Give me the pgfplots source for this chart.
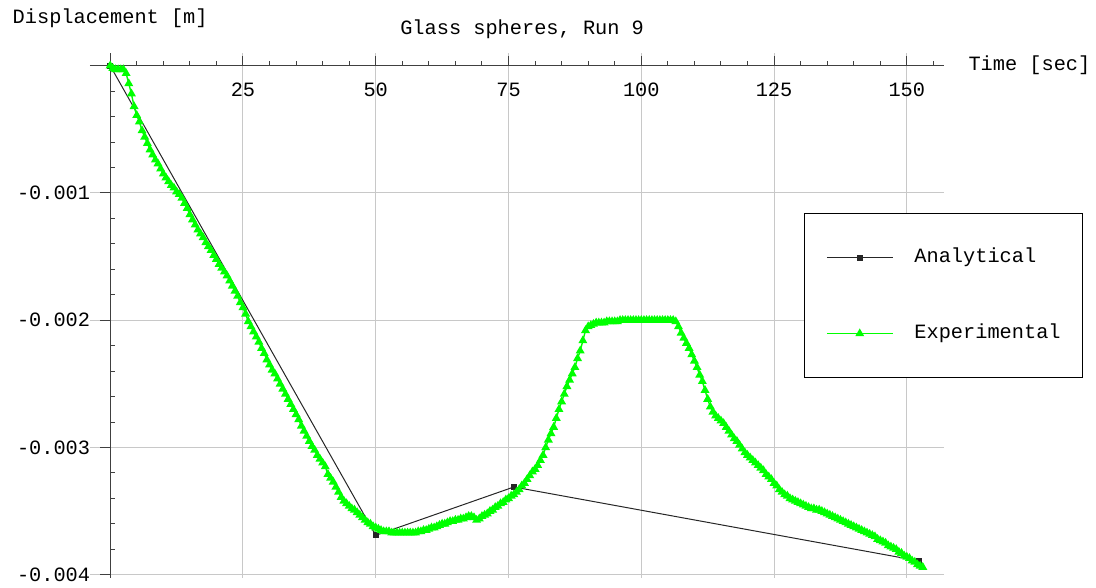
\documentclass[border=0pt]{standalone}
\usepackage{pgfplots}
\usepackage{pgfplotstable}
\pgfplotsset{compat=1.18}
\usepackage{fontspec}
\setmainfont{Liberation Mono}

\definecolor{expgreen}{RGB}{0,255,0}
\definecolor{gridgray}{RGB}{200,200,200}

% displacement in units of 1e-3 m
\pgfplotstableread[row sep=\\]{
t d\\
0 0\\ 50 -3.69\\ 76 -3.31\\ 152.2 -3.89\\
}\anadata

\pgfplotstableread[row sep=\\]{
t d\\
0 0\\ 0.5 -0.02\\ 1 -0.03\\ 1.5 -0.03\\ 2 -0.03\\ 2.5 -0.03\\ 3 -0.06\\ 3.5 -0.14\\ 4 -0.22\\ 4.5 -0.32\\
5 -0.39\\ 5.5 -0.44\\ 6 -0.51\\ 6.5 -0.56\\ 7 -0.61\\ 7.5 -0.66\\ 8 -0.70\\ 8.5 -0.74\\ 9 -0.77\\ 9.5 -0.81\\
10 -0.85\\ 10.5 -0.88\\ 11 -0.91\\ 11.5 -0.94\\ 12 -0.96\\ 12.5 -0.99\\ 13 -1.01\\ 13.5 -1.04\\ 14 -1.08\\ 14.5 -1.12\\
15 -1.17\\ 15.5 -1.21\\ 16 -1.25\\ 16.5 -1.29\\ 17 -1.32\\ 17.5 -1.35\\ 18 -1.39\\ 18.5 -1.42\\ 19 -1.45\\ 19.5 -1.49\\
20 -1.52\\ 20.5 -1.56\\ 21 -1.59\\ 21.5 -1.62\\ 22 -1.65\\ 22.5 -1.69\\ 23 -1.73\\ 23.5 -1.77\\ 24 -1.81\\ 24.5 -1.86\\
25 -1.90\\ 25.5 -1.95\\ 26 -2.01\\ 26.5 -2.05\\ 27 -2.09\\ 27.5 -2.13\\ 28 -2.17\\ 28.5 -2.22\\ 29 -2.26\\ 29.5 -2.31\\
30 -2.35\\ 30.5 -2.39\\ 31 -2.42\\ 31.5 -2.46\\ 32 -2.50\\ 32.5 -2.54\\ 33 -2.58\\ 33.5 -2.62\\ 34 -2.66\\ 34.5 -2.70\\
35 -2.74\\ 35.5 -2.78\\ 36 -2.83\\ 36.5 -2.87\\ 37 -2.91\\ 37.5 -2.95\\ 38 -2.99\\ 38.5 -3.02\\ 39 -3.06\\ 39.5 -3.09\\
40 -3.12\\ 40.5 -3.15\\ 41 -3.21\\ 41.5 -3.24\\ 42 -3.27\\ 42.5 -3.31\\ 43 -3.35\\ 43.5 -3.39\\ 44 -3.42\\ 44.5 -3.44\\
45 -3.46\\ 45.5 -3.48\\ 46 -3.49\\ 46.5 -3.51\\ 47 -3.53\\ 47.5 -3.55\\ 48 -3.57\\ 48.5 -3.59\\ 49 -3.60\\ 49.5 -3.62\\
50 -3.63\\ 50.5 -3.64\\ 51 -3.65\\ 51.5 -3.66\\ 52 -3.66\\ 52.5 -3.66\\ 53 -3.67\\ 53.5 -3.67\\ 54 -3.67\\ 54.5 -3.67\\
55 -3.67\\ 55.5 -3.67\\ 56 -3.67\\ 56.5 -3.67\\ 57 -3.67\\ 57.5 -3.67\\ 58 -3.66\\ 58.5 -3.66\\ 59 -3.65\\ 59.5 -3.65\\
60 -3.64\\ 60.5 -3.63\\ 61 -3.63\\ 61.5 -3.62\\ 62 -3.61\\ 62.5 -3.60\\ 63 -3.60\\ 63.5 -3.59\\ 64 -3.58\\ 64.5 -3.58\\
65 -3.57\\ 65.5 -3.57\\ 66 -3.56\\ 66.5 -3.56\\ 67 -3.55\\ 67.5 -3.54\\ 68 -3.54\\ 68.5 -3.55\\ 69 -3.57\\ 69.5 -3.56\\
70 -3.54\\ 70.5 -3.53\\ 71 -3.52\\ 71.5 -3.50\\ 72 -3.49\\ 72.5 -3.47\\ 73 -3.46\\ 73.5 -3.44\\ 74 -3.43\\ 74.5 -3.41\\
75 -3.40\\ 75.5 -3.38\\ 76 -3.37\\ 76.5 -3.35\\ 77 -3.33\\ 77.5 -3.30\\ 78 -3.28\\ 78.5 -3.25\\ 79 -3.22\\ 79.5 -3.19\\
80 -3.17\\ 80.5 -3.14\\ 81 -3.10\\ 81.5 -3.06\\ 82 -3.00\\ 82.5 -2.94\\ 83 -2.89\\ 83.5 -2.84\\ 84 -2.77\\ 84.5 -2.70\\
85 -2.64\\ 85.5 -2.58\\ 86 -2.52\\ 86.5 -2.47\\ 87 -2.42\\ 87.5 -2.37\\ 88 -2.30\\ 88.5 -2.24\\ 89 -2.16\\ 89.5 -2.08\\
90 -2.05\\ 90.5 -2.04\\ 91 -2.03\\ 91.5 -2.02\\ 92 -2.02\\ 92.5 -2.02\\ 93 -2.02\\ 93.5 -2.01\\ 94 -2.01\\ 94.5 -2.01\\
95 -2.01\\ 95.5 -2.01\\ 96 -2.00\\ 96.5 -2.00\\ 97 -2.00\\ 97.5 -2.00\\ 98 -2.00\\ 98.5 -2.00\\ 99 -2.00\\ 99.5 -2.00\\
100 -2.00\\ 100.5 -2.00\\ 101 -2.00\\ 101.5 -2.00\\ 102 -2.00\\ 102.5 -2.00\\ 103 -2.00\\ 103.5 -2.00\\ 104 -2.00\\ 104.5 -2.00\\
105 -2.00\\ 105.5 -2.00\\ 106 -2.00\\ 106.5 -2.01\\ 107 -2.05\\ 107.5 -2.10\\ 108 -2.14\\ 108.5 -2.18\\ 109 -2.22\\ 109.5 -2.27\\
110 -2.32\\ 110.5 -2.37\\ 111 -2.43\\ 111.5 -2.48\\ 112 -2.55\\ 112.5 -2.62\\ 113 -2.68\\ 113.5 -2.72\\ 114 -2.75\\ 114.5 -2.77\\
115 -2.79\\ 115.5 -2.81\\ 116 -2.84\\ 116.5 -2.87\\ 117 -2.90\\ 117.5 -2.93\\ 118 -2.95\\ 118.5 -2.98\\ 119 -3.01\\ 119.5 -3.04\\
120 -3.06\\ 120.5 -3.08\\ 121 -3.10\\ 121.5 -3.12\\ 122 -3.14\\ 122.5 -3.16\\ 123 -3.18\\ 123.5 -3.21\\ 124 -3.23\\ 124.5 -3.25\\
125 -3.28\\ 125.5 -3.30\\ 126 -3.33\\ 126.5 -3.35\\ 127 -3.37\\ 127.5 -3.38\\ 128 -3.40\\ 128.5 -3.41\\ 129 -3.42\\ 129.5 -3.43\\
130 -3.44\\ 130.5 -3.45\\ 131 -3.46\\ 131.5 -3.47\\ 132 -3.48\\ 132.5 -3.48\\ 133 -3.49\\ 133.5 -3.49\\ 134 -3.50\\ 134.5 -3.51\\
135 -3.52\\ 135.5 -3.53\\ 136 -3.54\\ 136.5 -3.55\\ 137 -3.56\\ 137.5 -3.57\\ 138 -3.58\\ 138.5 -3.59\\ 139 -3.60\\ 139.5 -3.61\\
140 -3.62\\ 140.5 -3.63\\ 141 -3.64\\ 141.5 -3.65\\ 142 -3.66\\ 142.5 -3.67\\ 143 -3.68\\ 143.5 -3.69\\ 144 -3.70\\ 144.5 -3.72\\
145 -3.73\\ 145.5 -3.74\\ 146 -3.75\\ 146.5 -3.77\\ 147 -3.78\\ 147.5 -3.79\\ 148 -3.80\\ 148.5 -3.82\\ 149 -3.83\\ 149.5 -3.85\\
150 -3.86\\ 150.5 -3.87\\ 151 -3.89\\ 151.5 -3.90\\ 152 -3.92\\ 152.5 -3.93\\ 153 -3.94\\
}\expdata

\begin{document}
\begin{tikzpicture}[font=\fontsize{10.15}{12}\selectfont]
\begin{axis}[
  name=ax,
  scale only axis,
  width=427pt, height=262.5pt,
  xmin=-3.8, xmax=157,
  ymin=-0.004025, ymax=0.0001,
  enlargelimits=false,
  axis lines=middle,
  axis line style={-, black!75, line width=0.5pt},
  xtick={25,50,...,150},
  ytick={-0.004,-0.003,-0.002,-0.001},
  minor xtick={5,10,...,155},
  minor ytick={-0.0002,-0.0004,-0.0006,-0.0008,-0.0012,-0.0014,-0.0016,-0.0018,
               -0.0022,-0.0024,-0.0026,-0.0028,-0.0032,-0.0034,-0.0036,-0.0038},
  grid=major,
  major grid style={gridgray, line width=0.5pt},
  tick align=center,
  major tick length=5pt, minor tick length=2.2pt,
  tick style={black!75, line width=0.5pt},
  major x tick style={yshift=2.5pt},
  minor x tick style={yshift=1.1pt},
  major y tick style={xshift=-2.5pt},
  minor y tick style={xshift=1.1pt},
  scaled y ticks=false,
  /pgf/number format/assume math mode=true,
  yticklabel style={/pgf/number format/fixed, /pgf/number format/precision=3,
                    /pgf/number format/fixed zerofill, xshift=-4pt},
  xticklabel style={yshift=-2.5pt},
  xlabel={Time [sec]},
  xlabel style={at={(current axis.right of origin)}, anchor=west, inner sep=0pt, xshift=12pt},
  ylabel={Displacement [m]},
  ylabel style={at={(current axis.above origin)}, anchor=south, inner sep=0pt, yshift=12.5pt},
  title={Glass spheres, Run 9},
  title style={at={(axis description cs:0.506,1)}, anchor=base, inner sep=0pt, yshift=3pt},
  clip mode=individual,
  legend cell align=left,
  legend image code/.code={
    \draw[mark repeat=2, mark phase=2, #1] plot coordinates {(0pt,0pt) (16.5pt,0pt) (33pt,0pt)};
  },
  legend style={at={(axis description cs:0.836,0.695)}, anchor=north west,
                draw=black, line width=0.5pt, fill=white,
                inner xsep=10.8pt, inner ysep=17.5pt,
                row sep=29pt, column sep=10.5pt,
                nodes={inner sep=0pt, text height=7pt, text depth=2pt}},
]
\addplot[black!85, line width=0.5pt, mark=square*, mark size=1.25pt]
  table[x=t, y expr=\thisrow{d}/1000] {\anadata};
\addlegendentry{Analytical}
\addplot[expgreen, line width=0.7pt, mark=triangle*, mark size=1.9pt, mark options={fill=expgreen}]
  table[x=t, y expr=\thisrow{d}/1000] {\expdata};
\addlegendentry{Experimental}
\end{axis}
\pgfresetboundingbox
\path[use as bounding box] (ax.south west) ++(-45pt,-5pt) rectangle ++(548pt,294pt);
\end{tikzpicture}
\end{document}
